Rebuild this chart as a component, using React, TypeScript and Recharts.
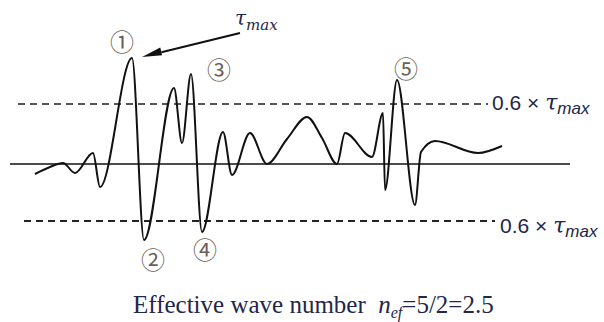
import { LineChart, Line, XAxis, YAxis, ReferenceLine, ReferenceDot } from 'recharts';

// shear stress history, time in arbitrary units, stress scaled so 0.6 line ~ 0.6
const times = [0, 0.15, 0.28, 0.40, 0.58, 0.65, 0.97, 1.09, 1.39, 1.47, 1.56, 1.67, 1.88, 1.97, 2.15, 2.32, 2.52, 2.72, 2.87, 3.02, 3.10, 3.37, 3.48, 3.50, 3.62, 3.80, 3.86, 4.00, 4.43, 4.67];
const stress = [-0.10, -0.03, 0.01, -0.09, 0.11, -0.23, 1.06, -0.76, 0.76, 0.21, 0.90, -0.68, 0.32, -0.11, 0.31, 0.00, 0.25, 0.47, 0.26, 0.00, 0.31, 0.07, 0.51, -0.26, 0.84, -0.41, 0.12, 0.23, 0.11, 0.18];

const peakLabels = ['①', '②', '③', '④', '⑤'];
const peakLabelT = [0.87, 1.18, 1.84, 1.70, 3.71];
const peakLabelV = [1.24, -0.94, 0.96, -0.84, 0.97];

const upperLevel = 0.6;
const lowerLevel = -0.57;

const data = times.map((t, i) => ({ t, tau: stress[i] }));

const ink = '#22264a';

function TauMax({ x, y, size, sub }: { x: number; y: number; size: number; sub: number }) {
    return (
        <text x={x} y={y} fill={ink} fontFamily="'Liberation Sans', sans-serif" fontSize={size}>
            {'0.6 × '}
            <tspan fontFamily="'DejaVu Serif', serif" fontStyle="italic" fontSize={size + 1}>τ</tspan>
            <tspan fontSize={sub} fontStyle="italic" dy={4}>max</tspan>
        </text>
    );
}

export default function App() {
    return (
        <div style={{ position: 'absolute', left: 0, top: 0, width: 604, height: 322, background: '#fff' }}>
            <LineChart width={604} height={322} data={data} margin={{ top: 0, right: 0, bottom: 0, left: 0 }}>
                <XAxis
                    dataKey="t"
                    type="number"
                    domain={[-0.35, 5.69]}
                    allowDataOverflow
                    axisLine={false}
                    tickLine={false}
                    tick={false}
                    height={50}
                    label={{
                        content: (p: any) => {
                            const vb = p.viewBox || { x: 0, y: 272 };
                            return (
                                <text x={vb.x + 133} y={vb.y + 41} fill={ink} fontFamily="'Liberation Serif', serif" fontSize={25} style={{ whiteSpace: 'pre' }}>
                                    {'Effective wave number\u00a0\u00a0'}
                                    <tspan fontStyle="italic">n</tspan>
                                    <tspan fontStyle="italic" fontSize={16} dy={5}>ef</tspan>
                                    <tspan dy={-5}>=5/2=2.5</tspan>
                                </text>
                            );
                        },
                    }}
                />
                <YAxis hide type="number" domain={[-1.08, 1.64]} allowDataOverflow />
                <ReferenceLine segment={[{ x: -0.25, y: 0 }, { x: 5.35, y: 0 }]} stroke="#111" strokeWidth={1.6} />
                <ReferenceLine segment={[{ x: -0.17, y: upperLevel }, { x: 4.53, y: upperLevel }]} stroke="#555" strokeWidth={2} strokeDasharray="7 5" />
                <ReferenceLine segment={[{ x: -0.11, y: lowerLevel }, { x: 4.60, y: lowerLevel }]} stroke="#222" strokeWidth={1.8} strokeDasharray="7 5" />
                <ReferenceLine
                    segment={[{ x: 2.05, y: 1.31 }, { x: 1.07, y: 1.07 }]}
                    stroke="#111"
                    shape={(p: any) => {
                        const { x1, y1, x2, y2 } = p;
                        const dx = x2 - x1;
                        const dy = y2 - y1;
                        const len = Math.sqrt(dx * dx + dy * dy) || 1;
                        const ux = dx / len;
                        const uy = dy / len;
                        const bx = x2 - ux * 20;
                        const by = y2 - uy * 20;
                        return (
                            <g>
                                <line x1={x1} y1={y1} x2={bx} y2={by} stroke="#111" strokeWidth={2.2} />
                                <polygon
                                    points={`${x2},${y2} ${bx - uy * 5},${by + ux * 5} ${bx + uy * 3},${by - ux * 3}`}
                                    fill="#111"
                                />
                            </g>
                        );
                    }}
                />
                <Line type="monotone" dataKey="tau" stroke="#111" strokeWidth={2} dot={false} activeDot={false} isAnimationActive={false} />
                {peakLabels.map((lab, i) => (
                    <ReferenceDot
                        key={lab}
                        x={peakLabelT[i]}
                        y={peakLabelV[i]}
                        r={0}
                        shape={(p: any) => (
                            <text x={p.cx} y={p.cy} textAnchor="middle" dominantBaseline="central" fill="#6b5f58" fontFamily="'Noto Sans CJK JP', sans-serif" fontSize={24}>
                                {lab}
                            </text>
                        )}
                    />
                ))}
                <ReferenceDot
                    x={2.0}
                    y={1.39}
                    r={0}
                    shape={(p: any) => (
                        <text x={p.cx} y={p.cy} fill={ink} fontFamily="'DejaVu Serif', serif" fontSize={20}>
                            <tspan fontStyle="italic">τ</tspan>
                            <tspan fontSize={15} fontStyle="italic" dy={5}>max</tspan>
                        </text>
                    )}
                />
                <ReferenceDot x={4.57} y={0.54} r={0} shape={(p: any) => <TauMax x={p.cx} y={p.cy} size={21} sub={17} />} />
                <ReferenceDot x={4.65} y={-0.69} r={0} shape={(p: any) => <TauMax x={p.cx} y={p.cy} size={21} sub={17} />} />
            </LineChart>
        </div>
    );
}
